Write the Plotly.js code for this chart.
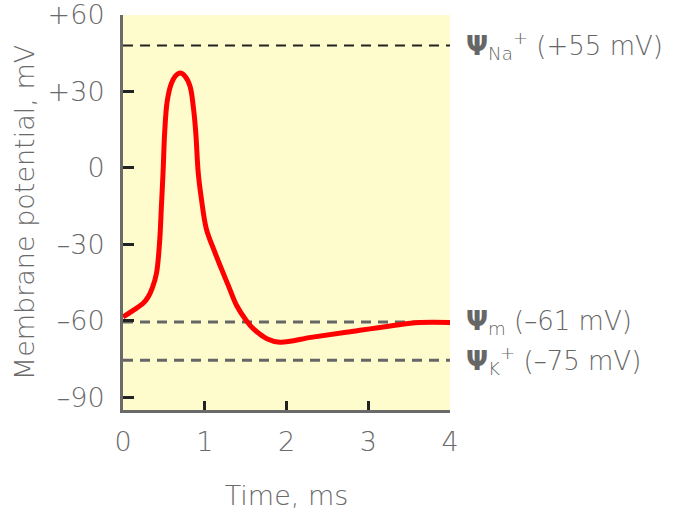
<!DOCTYPE html>
<html>
<head>
<meta charset="utf-8">
<script src="https://cdn.plot.ly/plotly-3.0.1.min.js"></script>
<style>html,body{margin:0;padding:0;background:#fff;}#chart{width:678px;height:519px;}</style>
</head>
<body>
<div id="chart"></div>
<script>
// Action potential trace (time in ms, membrane potential in mV)
const timeMs = [0, 0.12, 0.25, 0.31, 0.36, 0.41, 0.45, 0.47, 0.49, 0.51, 0.54, 0.59, 0.64, 0.70, 0.76, 0.82, 0.86, 0.89, 0.92, 0.96, 1.02, 1.11, 1.19, 1.29, 1.39, 1.51, 1.59, 1.76, 1.92, 2.3, 2.73, 3.27, 3.63, 4.0];
const potentialMv = [-58.5, -56, -53, -50.5, -47, -41.3, -28, -15, -1.8, 14, 26, 33, 36, 37.2, 35.9, 32, 24, 14, -1.8, -12.4, -24, -32, -38.5, -46.3, -54, -60, -63, -67, -68.4, -66.5, -64.5, -62, -60.7, -60.7];

// Reference potential lines (as drawn)
const refLevels = [48, -60.5, -75.5];
const refLabels = ["<b>Ψ</b><sub>Na</sub><sup>+</sup> (+55 mV)", "<b>Ψ</b><sub>m</sub> (–61 mV)", "<b>Ψ</b><sub>K</sub><sup>+</sup> (–75 mV)"];
const refColors = ["#222222", "#666666", "#666666"];
const refWidths = [2, 3, 3];

const yTickVals = [60, 30, 0, -30, -60, -90];
const yTickText = ["+60", "+30", "0", "–30", "–60", "–90"];
const xTickVals = [0, 1, 2, 3, 4];
const xRange = [0, 4];

const traces = [];
refLevels.forEach((lv, i) => {
  traces.push({
    x: xRange, y: [lv, lv], mode: "lines", hoverinfo: "skip",
    line: {color: refColors[i], width: refWidths[i], dash: "10px,7px"}
  });
});
traces.push({
  x: timeMs, y: potentialMv, mode: "lines",
  line: {color: "#ff0000", width: 5, shape: "spline", smoothing: 1}
});

const fam = "DejaVu Sans, Liberation Sans, Arial, sans-serif";
const font = {family: fam, size: 27, color: "#6a6a6a", weight: 300};

const annotations = refLevels.map((lv, i) => ({
  xref: "paper", yref: "y", x: 1, y: lv, xanchor: "left", yanchor: "middle",
  xshift: 14, showarrow: false, text: refLabels[i],
  font: {family: fam, size: 26, color: "#666666", weight: 300}
}));

const layout = {
  width: 678, height: 519,
  margin: {l: 123, r: 228, t: 15, b: 109},
  paper_bgcolor: "#ffffff",
  plot_bgcolor: "#fefccd",
  showlegend: false,
  font: font,
  xaxis: {
    range: xRange, tickvals: xTickVals, ticks: "inside", ticklen: 9, tickwidth: 3, tickcolor: "#222222",
    showline: true, linecolor: "#6a6a6a", linewidth: 3, showgrid: false, zeroline: false,
    tickfont: font, fixedrange: true, ticklabelstandoff: 6, ticklabeloverflow: "allow",
    title: {text: "Time, ms", font: font, standoff: 30}
  },
  yaxis: {
    range: [-95, 60], tickvals: yTickVals, ticktext: yTickText, ticks: "inside", ticklen: 11, tickwidth: 3, tickcolor: "#222222",
    showline: true, linecolor: "#6a6a6a", linewidth: 3, showgrid: false, zeroline: false,
    tickfont: font, fixedrange: true, ticklabelstandoff: 10, ticklabeloverflow: "allow",
    title: {text: "Membrane potential, mV", font: font, standoff: 6}
  },
  annotations: annotations
};

Plotly.newPlot("chart", traces, layout, {displayModeBar: false, staticPlot: true});
</script>
</body>
</html>
